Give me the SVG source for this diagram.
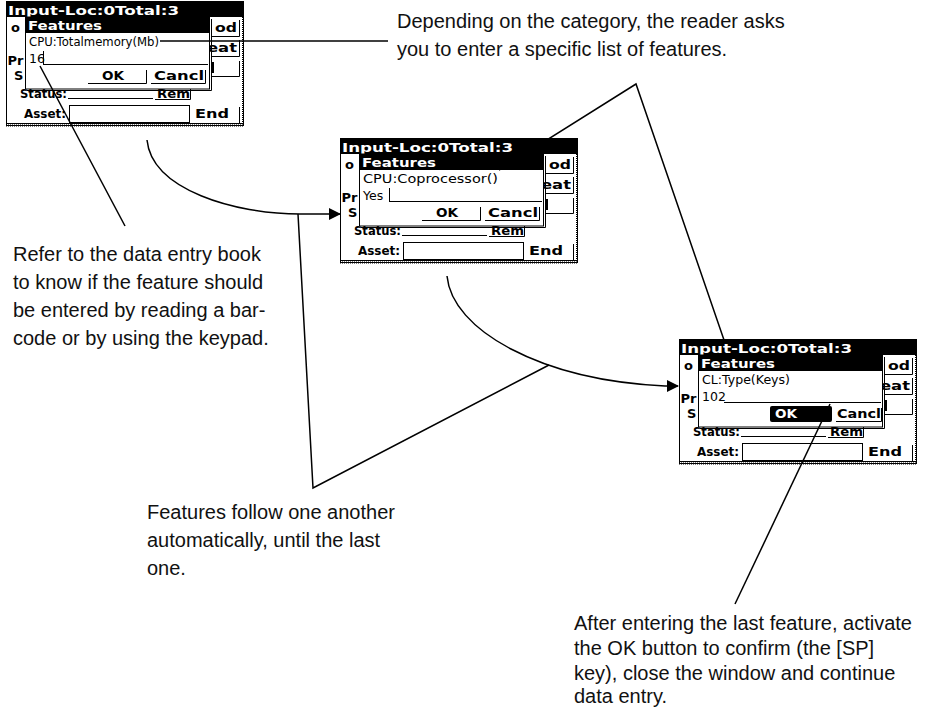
<svg xmlns="http://www.w3.org/2000/svg" width="938" height="709" viewBox="0 0 938 709">
  <style>
    .note { font-family: "Liberation Sans", Arial, sans-serif; font-size: 20px; fill: #111; }
    .px { font-family: "DejaVu Sans", sans-serif; font-size: 12.5px; fill: #000; }
    .pxb { font-family: "DejaVu Sans", sans-serif; font-size: 13px; font-weight: bold; fill: #000; }
    .inv { fill: #fff; }
    .ln { stroke: #000; stroke-width: 1; fill: none; }
    .conn { stroke: #000; stroke-width: 1.5; fill: none; }
    .dots { stroke: #000; stroke-width: 2; stroke-dasharray: 1 1; fill: none; }
  </style>
  <defs>
    <!-- device window chrome shared by all three screens -->
    <g id="chrome">
      <rect x="0.5" y="0.5" width="237" height="124" fill="#fff" stroke="#000"/>
      <rect x="0" y="0" width="238" height="16" fill="#000"/>
      <line class="dots" x1="237" y1="16" x2="237" y2="125"/>
      <line class="ln" x1="0" y1="122.5" x2="238" y2="122.5"/>
      <line class="dots" x1="0" y1="124.5" x2="238" y2="124.5"/>
      <!-- right-hand buttons -->
      <polyline class="ln" points="205,35.5 233.5,35.5 233.5,19"/>
      <polyline class="ln" points="205,55.5 233.5,55.5 233.5,39"/>
      <polyline class="ln" points="205,75.5 233.5,75.5 233.5,60"/>
      <rect x="205" y="61" width="3" height="11" fill="#000"/>
      <!-- status row -->
      <line class="ln" x1="62" y1="97.5" x2="147" y2="97.5"/>
      <polyline class="ln" points="149,98.5 184.5,98.5 184.5,88"/>
      <!-- asset row -->
      <rect x="63.5" y="104.5" width="120" height="17" fill="#fff" stroke="#000"/>
      <polyline class="ln" points="233.5,106 233.5,122"/>
    </g>
    <!-- the Features dialog box -->
    <g id="dialog">
      <polyline class="ln" points="205.5,18 205.5,89.5 21,89.5"/>
      <rect x="19.5" y="16" width="184" height="72" fill="#fff" stroke="#000"/>
      <rect x="19" y="16" width="185" height="16" fill="#000"/>
      <line class="ln" x1="49" y1="63.5" x2="202" y2="63.5"/>
    </g>
    <g id="dialogButtons">
      <polyline class="ln" points="82,82.5 140.5,82.5 140.5,69"/>
      <polyline class="ln" points="145,82.5 199.5,82.5 199.5,69"/>
    </g>
    <marker id="arrow" markerWidth="12" markerHeight="12" refX="11" refY="6" orient="auto" markerUnits="userSpaceOnUse">
      <path d="M0,0 L12,6 L0,12 Z" fill="#000"/>
    </marker>
  </defs>

  <!-- screen 1: CPU total memory -->
  <g id="screen1" transform="translate(6,1)">
    <use href="#chrome"/>
    <text class="pxb inv" x="2" y="13.5" textLength="171" lengthAdjust="spacingAndGlyphs">Input-Loc:0Total:3</text>
    <text class="pxb" x="5" y="31" font-size="11">o</text>
    <text class="pxb" x="1.5" y="64" font-size="11">Pr</text>
    <text class="pxb" x="8" y="79" font-size="11">S</text>
    <text class="pxb" x="209" y="31" textLength="22" lengthAdjust="spacingAndGlyphs">od</text>
    <text class="pxb" x="201" y="51" textLength="30" lengthAdjust="spacingAndGlyphs">eat</text>
    <text class="pxb" x="14" y="97" font-size="11.5" textLength="47" lengthAdjust="spacingAndGlyphs">Status:</text>
    <text class="pxb" x="151" y="97" textLength="33" lengthAdjust="spacingAndGlyphs">Rem</text>
    <use href="#dialog"/>
    <text class="pxb inv" x="22" y="29" textLength="74" lengthAdjust="spacingAndGlyphs">Features</text>
    <text class="px" x="23" y="45" textLength="130" lengthAdjust="spacingAndGlyphs">CPU:Totalmemory(Mb)</text>
    <text class="px" x="23" y="62">16</text>
    <line class="ln" x1="37.5" y1="50" x2="37.5" y2="63"/>
    <line class="ln" x1="37" y1="63.5" x2="49" y2="63.5"/>
    <use href="#dialogButtons"/>
    <text class="pxb" x="96" y="79" textLength="22" lengthAdjust="spacingAndGlyphs">OK</text>
    <text class="pxb" x="148" y="79" textLength="50" lengthAdjust="spacingAndGlyphs">Cancl</text>
    <text class="pxb" x="18" y="117" font-size="11.5" textLength="42" lengthAdjust="spacingAndGlyphs">Asset:</text>
    <text class="pxb" x="189" y="117" textLength="34" lengthAdjust="spacingAndGlyphs">End</text>
  </g>

  <!-- screen 2: coprocessor -->
  <g id="screen2" transform="translate(340,138)">
    <use href="#chrome"/>
    <text class="pxb inv" x="2" y="13.5" textLength="171" lengthAdjust="spacingAndGlyphs">Input-Loc:0Total:3</text>
    <text class="pxb" x="5" y="31" font-size="11">o</text>
    <text class="pxb" x="1.5" y="64" font-size="11">Pr</text>
    <text class="pxb" x="8" y="79" font-size="11">S</text>
    <text class="pxb" x="209" y="31" textLength="22" lengthAdjust="spacingAndGlyphs">od</text>
    <text class="pxb" x="201" y="51" textLength="30" lengthAdjust="spacingAndGlyphs">eat</text>
    <text class="pxb" x="14" y="97" font-size="11.5" textLength="47" lengthAdjust="spacingAndGlyphs">Status:</text>
    <text class="pxb" x="151" y="97" textLength="33" lengthAdjust="spacingAndGlyphs">Rem</text>
    <use href="#dialog"/>
    <text class="pxb inv" x="22" y="29" textLength="74" lengthAdjust="spacingAndGlyphs">Features</text>
    <text class="px" x="23" y="45" textLength="135" lengthAdjust="spacingAndGlyphs">CPU:Coprocessor()</text>
    <text class="px" x="23" y="62">Yes</text>
    <line class="ln" x1="49.5" y1="50" x2="49.5" y2="63"/>
    <use href="#dialogButtons"/>
    <text class="pxb" x="96" y="79" textLength="22" lengthAdjust="spacingAndGlyphs">OK</text>
    <text class="pxb" x="148" y="79" textLength="50" lengthAdjust="spacingAndGlyphs">Cancl</text>
    <text class="pxb" x="18" y="117" font-size="11.5" textLength="42" lengthAdjust="spacingAndGlyphs">Asset:</text>
    <text class="pxb" x="189" y="117" textLength="34" lengthAdjust="spacingAndGlyphs">End</text>
  </g>

  <!-- screen 3: keyboard type, OK selected -->
  <g id="screen3" transform="translate(679,339)">
    <use href="#chrome"/>
    <text class="pxb inv" x="2" y="13.5" textLength="171" lengthAdjust="spacingAndGlyphs">Input-Loc:0Total:3</text>
    <text class="pxb" x="5" y="31" font-size="11">o</text>
    <text class="pxb" x="1.5" y="64" font-size="11">Pr</text>
    <text class="pxb" x="8" y="79" font-size="11">S</text>
    <text class="pxb" x="209" y="31" textLength="22" lengthAdjust="spacingAndGlyphs">od</text>
    <text class="pxb" x="201" y="51" textLength="30" lengthAdjust="spacingAndGlyphs">eat</text>
    <text class="pxb" x="14" y="97" font-size="11.5" textLength="47" lengthAdjust="spacingAndGlyphs">Status:</text>
    <text class="pxb" x="151" y="97" textLength="33" lengthAdjust="spacingAndGlyphs">Rem</text>
    <use href="#dialog"/>
    <text class="pxb inv" x="22" y="29" textLength="74" lengthAdjust="spacingAndGlyphs">Features</text>
    <text class="px" x="23" y="45" textLength="88" lengthAdjust="spacingAndGlyphs">CL:Type(Keys)</text>
    <text class="px" x="23" y="62">102</text>
    <line class="ln" x1="45" y1="63.5" x2="49" y2="63.5"/>
    <rect x="91" y="67" width="62" height="16" rx="2" fill="#000"/>
    <polyline class="ln" points="157,82.5 202.5,82.5 202.5,69"/>
    <text class="pxb inv" x="96" y="79" textLength="22" lengthAdjust="spacingAndGlyphs">OK</text>
    <text class="pxb" x="158" y="79" textLength="44" lengthAdjust="spacingAndGlyphs">Cancl</text>
    <text class="pxb" x="18" y="117" font-size="11.5" textLength="42" lengthAdjust="spacingAndGlyphs">Asset:</text>
    <text class="pxb" x="189" y="117" textLength="34" lengthAdjust="spacingAndGlyphs">End</text>
  </g>

  <!-- callout lines and flow arrows -->
  <g id="connectors">
    <line class="conn" x1="40" y1="66" x2="125" y2="226"/>
    <line class="conn" x1="160" y1="41" x2="388" y2="41"/>
    <polyline class="conn" points="499,170 636,84 724,340"/>
    <path class="conn" d="M147,140 C152,190 235,214 300,214 L340,214" marker-end="url(#arrow)"/>
    <path class="conn" d="M447,276 C452,330 540,380 665,386 L678,386" marker-end="url(#arrow)"/>
    <polyline class="conn" points="298,214 313,488 549,365"/>
    <line class="conn" x1="830" y1="404" x2="735" y2="604"/>
  </g>

  <!-- explanatory notes -->
  <g id="noteTop">
    <text class="note" x="397" y="28">Depending on the category, the reader asks</text>
    <text class="note" x="397" y="56">you to enter a specific list of features.</text>
  </g>
  <g id="noteLeft">
    <text class="note" x="13" y="261">Refer to the data entry book</text>
    <text class="note" x="13" y="289">to know if the feature should</text>
    <text class="note" x="13" y="317">be entered by reading a bar-</text>
    <text class="note" x="13" y="345">code or by using the keypad.</text>
  </g>
  <g id="noteMiddle">
    <text class="note" x="147" y="519">Features follow one another</text>
    <text class="note" x="147" y="547">automatically, until the last</text>
    <text class="note" x="147" y="575">one.</text>
  </g>
  <g id="noteBottom">
    <text class="note" x="574" y="630">After entering the last feature, activate</text>
    <text class="note" x="574" y="655">the OK button to confirm (the [SP]</text>
    <text class="note" x="574" y="680">key), close the window and continue</text>
    <text class="note" x="574" y="703">data entry.</text>
  </g>
</svg>
